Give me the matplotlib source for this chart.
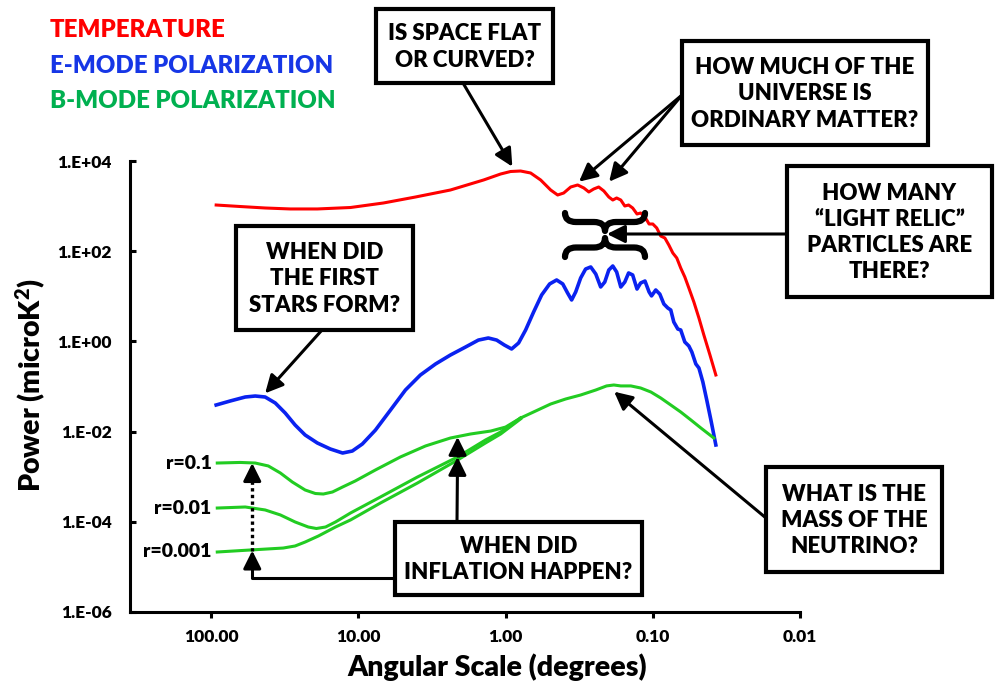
import matplotlib
matplotlib.use("Agg")
import matplotlib.pyplot as plt
from matplotlib.patches import Rectangle, PathPatch
from matplotlib.path import Path
from matplotlib.ticker import NullLocator

plt.rcParams['font.family'] = ['Lato', 'DejaVu Sans']
plt.rcParams['font.weight'] = 'heavy'
plt.rcParams['mathtext.fontset'] = 'custom'
plt.rcParams['mathtext.bf'] = 'Lato:heavy'
plt.rcParams['mathtext.rm'] = 'Lato:heavy'
plt.rcParams['mathtext.default'] = 'bf'

# ---- data (angular scale in degrees, power in microK^2) ----
temp_deg = [92.5, 63.5, 43.0, 29.0, 19.0, 11.3, 6.76, 4.09, 2.37, 1.41, 1.08,
            0.925, 0.791, 0.676, 0.578, 0.494, 0.443, 0.403, 0.361, 0.324,
            0.294, 0.272, 0.252, 0.233, 0.215, 0.199, 0.187, 0.176, 0.165,
            0.155, 0.146, 0.137, 0.128, 0.121, 0.113, 0.106, 0.100, 0.094,
            0.0883, 0.0828, 0.0778, 0.0731, 0.0687, 0.0646, 0.0606, 0.0569,
            0.0526, 0.0486, 0.0450, 0.0409, 0.0373]
temp_pow = [1057, 979, 908, 864, 864, 931, 1172, 1592, 2275, 3796, 5152,
            5850, 6000, 5420, 3796, 2275, 1762, 1950, 2652, 2940,
            2520, 2056, 2394, 2652, 2163, 1592, 1365, 1513, 1365,
            1005, 1057, 908, 668, 703, 573, 401, 401, 327,
            217, 196, 137, 91.2, 70.6, 42.4, 26.8, 15.3,
            7.48, 3.30, 1.39, 0.500, 0.180]

emode_deg = [92.5, 74.3, 58.7, 50.2, 43.0, 36.7, 31.4, 26.9, 23.0, 19.0, 15.5,
             12.8, 11.0, 9.40, 7.66, 6.05, 4.79, 3.79, 2.99, 2.37, 1.87, 1.53,
             1.31, 1.15, 1.02, 0.910, 0.816, 0.731, 0.645, 0.569, 0.502, 0.450,
             0.409, 0.379, 0.356, 0.334, 0.309, 0.286, 0.264, 0.244, 0.226,
             0.212, 0.199, 0.187, 0.176, 0.165, 0.155, 0.146, 0.137, 0.128,
             0.121, 0.113, 0.106, 0.102, 0.0955, 0.0896, 0.0841, 0.0791,
             0.0755, 0.0720, 0.0676, 0.0646, 0.0606, 0.0569, 0.0543, 0.0510,
             0.0486, 0.0457, 0.0430, 0.0403, 0.0373]
emode_pow = [0.0389, 0.0477, 0.0585, 0.0615, 0.0585, 0.0431, 0.0258, 0.0140,
             0.00841, 0.00559, 0.00411, 0.00335, 0.00371, 0.00531, 0.0108,
             0.0301, 0.0836, 0.180, 0.316, 0.499, 0.751, 1.07, 1.19, 1.07,
             0.832, 0.679, 0.922, 1.79, 4.49, 10.7, 18.8, 23.0, 18.8, 11.8,
             8.28, 12.5, 25.5, 40.3, 44.7, 31.2, 16.1, 20.7, 38.3, 47.0, 34.6,
             16.1, 20.7, 32.9, 29.7, 14.5, 19.7, 21.8, 12.5, 10.2, 13.8, 11.2,
             6.75, 5.51, 4.97, 2.69, 1.88, 1.79, 0.970, 0.791, 0.582, 0.316,
             0.257, 0.126, 0.0502, 0.0181, 0.00505]

# B-mode, large-scale part for each tensor-to-scalar ratio r
r01_deg = [90.9, 63.5, 50.2, 40.9, 33.9, 28.1, 23.0, 19.6, 17.3, 15.0, 12.8,
           10.5, 7.66, 5.18, 3.50, 2.37, 1.73, 1.26, 1.0, 0.791]
r01_pow = [0.00201, 0.00207, 0.00201, 0.00173, 0.00121, 0.000762, 0.000507,
           0.000424, 0.000413, 0.000458, 0.000591, 0.000804, 0.00141, 0.00274,
           0.00480, 0.00721, 0.00885, 0.0103, 0.0126, 0.0200]

r001_deg = [90.9, 58.7, 43.0, 33.9, 26.9, 21.9, 19.3, 16.7, 14.3, 11.3, 7.08,
            3.97, 2.12, 1.37, 1.08, 0.791]
r001_pow = [0.000202, 0.000213, 0.000183, 0.000142, 9.91e-5, 7.67e-5, 7.10e-5,
            7.67e-5, 9.91e-5, 0.000157, 0.000355, 0.000984, 0.00274, 0.00651,
            0.00980, 0.0200]

r0001_deg = [90.9, 54.3, 32.4, 26.9, 23.0, 18.7, 14.3, 11.3, 7.08, 3.97, 2.12,
             1.37, 1.08, 0.791]
r0001_pow = [2.14e-5, 2.37e-5, 2.62e-5, 2.91e-5, 3.56e-5, 4.84e-5, 7.67e-5,
             0.000110, 0.000261, 0.000724, 0.00234, 0.00559, 0.00885, 0.0191]

# B-mode small-scale (lensing) part shared by all r
lens_deg = [0.791, 0.625, 0.494, 0.391, 0.309, 0.244, 0.206, 0.184, 0.165,
            0.141, 0.121, 0.103, 0.0883, 0.0755, 0.0646, 0.0551, 0.0471, 0.0385]
lens_pow = [0.0200, 0.0286, 0.0409, 0.0528, 0.0648, 0.0836, 0.103, 0.108,
            0.103, 0.103, 0.0927, 0.0755, 0.0556, 0.0389, 0.0272, 0.0181,
            0.0120, 0.00721]

r_labels = ["r=0.1", "r=0.01", "r=0.001"]
x_ticks = [100, 10, 1, 0.1, 0.01]
x_ticklabels = ["100.00", "10.00", "1.00", "0.10", "0.01"]
y_ticks = [1e4, 1e2, 1e0, 1e-2, 1e-4, 1e-6]
y_ticklabels = ["1.E+04", "1.E+02", "1.E+00", "1.E-02", "1.E-04", "1.E-06"]

RED = "#FF0000"
BLUE = "#0A22F0"
GREEN = "#22CC22"

W, H = 996, 687


def fp(px, py):
    # pixel position -> figure fraction
    return (px / W, 1 - py / H)


fig = plt.figure(figsize=(W / 100, H / 100), dpi=100)
ax = fig.add_axes([130 / W, 1 - 612 / H, 670 / W, 451 / H])

ax.plot(temp_deg, temp_pow, color=RED, lw=2.2, zorder=3)
ax.plot(emode_deg, emode_pow, color=BLUE, lw=2.6, zorder=3)
for d, p in [(r01_deg, r01_pow), (r001_deg, r001_pow), (r0001_deg, r0001_pow)]:
    ax.plot(d, p, color=GREEN, lw=2.2, zorder=3)
ax.plot(lens_deg, lens_pow, color=GREEN, lw=2.2, zorder=3)

for lab, d, p in zip(r_labels, [r01_deg, r001_deg, r0001_deg],
                     [r01_pow, r001_pow, r0001_pow]):
    ax.annotate(lab, xy=(d[0], p[0]), xytext=(-4, 0), textcoords="offset points",
                ha="right", va="center", fontsize=14)

ax.set_xscale("log")
ax.set_yscale("log")
ax.set_xlim(356, 0.01)
ax.set_ylim(1e-6, 1e4)
ax.set_xticks(x_ticks)
ax.set_xticklabels(x_ticklabels)
ax.set_yticks(y_ticks)
ax.set_yticklabels(y_ticklabels)
ax.xaxis.set_minor_locator(NullLocator())
ax.yaxis.set_minor_locator(NullLocator())
ax.tick_params(axis="x", direction="out", length=4.5, width=2.2, pad=8, labelsize=12.5)
ax.tick_params(axis="y", direction="in", length=4.5, width=2.2, pad=13, labelsize=12.5)
for s in ["top", "right"]:
    ax.spines[s].set_visible(False)
for s in ["left", "bottom"]:
    ax.spines[s].set_linewidth(2.2)

fig.text(*fp(497, 667), "Angular Scale (degrees)", ha="center", va="center",
         fontsize=20.5)
fig.text(*fp(31, 385), "Power (microK$^{2}$)", ha="center", va="center",
         rotation=90, fontsize=20.5)

# legend-like titles
fig.text(*fp(50, 30), "TEMPERATURE", color=RED, fontsize=17.3, va="center")
fig.text(*fp(50, 66), "E-MODE POLARIZATION", color="#1636E6", fontsize=17.3, va="center")
fig.text(*fp(50, 101), "B-MODE POLARIZATION", color="#00B050", fontsize=17.3, va="center")

# question boxes
boxes = [
    ("IS SPACE FLAT\nOR CURVED?", (376, 9, 553, 83)),
    ("HOW MUCH OF THE\nUNIVERSE IS\nORDINARY MATTER?", (682, 41, 928, 145)),
    ("HOW MANY\n\u201cLIGHT RELIC\u201d\nPARTICLES ARE\nTHERE?", (787, 166, 992, 297)),
    ("WHEN DID\nTHE FIRST\nSTARS FORM?", (236, 226, 413, 330)),
    ("WHAT IS THE\nMASS OF THE\nNEUTRINO?", (766, 467, 942, 572)),
    ("WHEN DID\nINFLATION HAPPEN?", (395, 522, 642, 595)),
]
for txt, (x0, y0, x1, y1) in boxes:
    fig.add_artist(Rectangle(fp(x0, y1), (x1 - x0) / W, (y1 - y0) / H,
                             transform=fig.transFigure, facecolor="white",
                             edgecolor="black", lw=3, zorder=5))
    fig.text(*fp((x0 + x1) / 2, (y0 + y1) / 2 + 1), txt, ha="center", va="center",
             multialignment="center", fontsize=16, linespacing=1.3, zorder=6)

aprops = dict(arrowstyle="-|>,head_length=0.6,head_width=0.3", lw=2.2,
              color="black", shrinkA=0, shrinkB=0, mutation_scale=18)


def arrow(tip, start, tipcoords="data", startcoords="figure fraction", **kw):
    props = dict(aprops)
    props.update(kw)
    ax.annotate("", xy=tip, xycoords=tipcoords, xytext=start,
                textcoords=startcoords, arrowprops=props, annotation_clip=False,
                zorder=4)


arrow((0.90, 7500), fp(463, 83))
arrow((0.317, 3480), fp(682, 95))
arrow((0.198, 3480), fp(682, 95))
arrow(fp(607, 234), fp(787, 234), tipcoords="figure fraction")
arrow((43.0, 0.0706), fp(322, 330))
arrow((0.183, 0.0767), fp(766, 518))


def brace(x0, x1, y_end, y_tip):
    # horizontal curly brace in pixel units: ends at y_end, middle point at y_tip
    xc = (x0 + x1) / 2
    ym = (y_end + y_tip) / 2
    q = 11
    pts = [(x0, y_end), (x0, ym), (x0 + q, ym), (xc - q, ym), (xc, ym), (xc, y_tip),
           (xc, ym), (xc + q, ym), (x1 - q, ym), (x1, ym), (x1, y_end)]
    codes = [Path.MOVETO, Path.CURVE3, Path.CURVE3, Path.LINETO, Path.CURVE3,
             Path.CURVE3, Path.CURVE3, Path.CURVE3, Path.LINETO, Path.CURVE3,
             Path.CURVE3]
    path = Path([fp(*p) for p in pts], codes)
    fig.add_artist(PathPatch(path, transform=fig.transFigure, fill=False,
                             lw=4.5, edgecolor="black", capstyle="round",
                             joinstyle="round", zorder=4))


# braces marking the damping tail
brace(565, 645, 213, 231)
brace(565, 645, 257, 238)

# inflation arrows (solid to lowest r, dotted on to r=0.1)
arrow((2.12, 0.00274), fp(457, 522))
ax.plot([2.12, 2.12], [0.00274, 0.0055], color="black", lw=2.4, ls=(0, (1, 1)),
        zorder=4)
arrow((2.12, 0.0076), (2.12, 0.0052), startcoords="data")

ax.plot([5.6, 52.6, 52.6], [5.7e-6, 5.7e-6, 1.2e-5], color="black", lw=2.2,
        zorder=4, clip_on=False, solid_capstyle="butt")
arrow((52.6, 2.3e-5), (52.6, 1.2e-5), startcoords="data")
ax.plot([52.6, 52.6], [2.3e-5, 0.0011], color="black", lw=2.4, ls=(0, (1, 1)),
        zorder=4)
arrow((52.6, 0.0020), (52.6, 0.0011), startcoords="data")

fig.savefig("out.png", dpi=100)
